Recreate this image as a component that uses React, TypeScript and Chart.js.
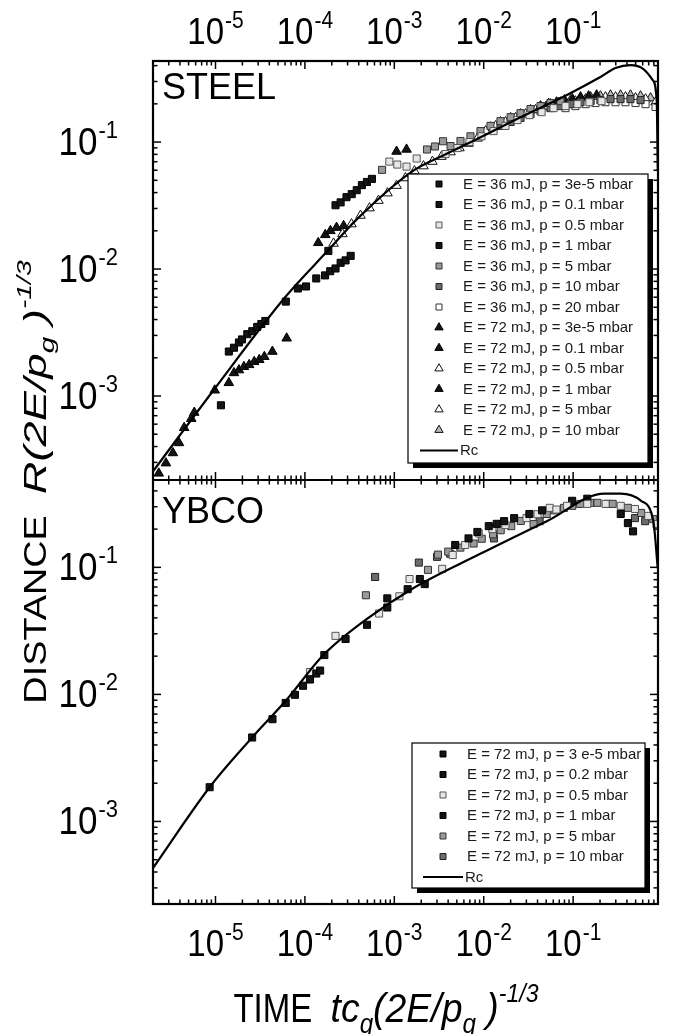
import React, { useEffect, useRef } from 'react';
import { Chart, registerables } from 'chart.js';

Chart.register(...registerables);

const FONT = "'Liberation Sans', Arial, Helvetica, sans-serif";

// ---- axis ranges & tick labels ----
const X_MIN = 2.0e-6;
const X_MAX = 0.89;
const STEEL_Y_MIN = 2.18e-4;
const STEEL_Y_MAX = 0.435;
const YBCO_Y_MIN = 2.24e-4;
const YBCO_Y_MAX = 0.487;

const X_TICK_VALUES = [1e-5, 1e-4, 1e-3, 1e-2, 1e-1];
const X_TICK_EXPONENTS = ['-5', '-4', '-3', '-2', '-1'];
const Y_TICK_VALUES = [1e-3, 1e-2, 1e-1];
const Y_TICK_EXPONENTS = ['-3', '-2', '-1'];

// ---- STEEL panel data [t, R] ----
const STEEL_36_3E5: [number, number][] = [[1.15e-5, 8.45e-4], [1.41e-5, 2.24e-3], [1.61e-5, 2.40e-3], [1.83e-5, 2.64e-3], [1.98e-5, 2.79e-3], [2.27e-5, 3.07e-3], [2.58e-5, 3.24e-3], [2.93e-5, 3.50e-3], [3.26e-5, 3.69e-3], [3.61e-5, 3.90e-3]];
const STEEL_36_01: [number, number][] = [[6.12e-5, 5.54e-3], [8.35e-5, 7.03e-3], [1.03e-4, 7.29e-3], [1.34e-4, 8.43e-3], [1.68e-4, 8.91e-3], [1.92e-4, 9.61e-3], [2.20e-4, 0.0101], [2.51e-4, 0.0112], [2.85e-4, 0.0117], [3.25e-4, 0.0127]];
const STEEL_36_05: [number, number][] = [[8.8e-4, 0.0702], [1.08e-3, 0.0665], [1.37e-3, 0.0641], [1.78e-3, 0.0742], [3.74e-3, 0.0805], [5.09e-3, 0.0897], [6.93e-3, 0.1], [9.44e-3, 0.111], [0.0129, 0.122], [0.0175, 0.134], [0.0239, 0.149], [0.0325, 0.163], [0.0444, 0.172], [0.0604, 0.185], [0.0822, 0.192], [0.112, 0.199], [0.152, 0.206], [0.208, 0.210]];
const STEEL_36_1: [number, number][] = [[1.83e-4, 0.0139], [2.20e-4, 0.0318], [2.51e-4, 0.0335], [2.92e-4, 0.0368], [3.34e-4, 0.0389], [3.80e-4, 0.0418], [4.34e-4, 0.0458], [4.94e-4, 0.0485], [5.62e-4, 0.0513]];
const STEEL_36_5: [number, number][] = [[7.3e-4, 0.0604], [2.32e-3, 0.0874], [2.85e-3, 0.0923], [3.51e-3, 0.1015], [4.26e-3, 0.093], [5.50e-3, 0.102], [7.11e-3, 0.111], [9.2e-3, 0.122], [0.0119, 0.134], [0.0154, 0.146], [0.0200, 0.157], [0.0258, 0.169], [0.0334, 0.182], [0.0432, 0.192], [0.0558, 0.203], [0.0723, 0.210]];
const STEEL_36_10: [number, number][] = [[0.0154, 0.134], [0.0200, 0.144], [0.0258, 0.155], [0.0334, 0.166], [0.0432, 0.175], [0.0558, 0.185], [0.0723, 0.192], [0.0935, 0.199], [0.121, 0.206], [0.157, 0.210], [0.202, 0.214], [0.262, 0.218], [0.339, 0.218], [0.438, 0.218], [0.568, 0.214]];
const STEEL_36_20: [number, number][] = [[0.0822, 0.185], [0.106, 0.192], [0.138, 0.199], [0.178, 0.203], [0.230, 0.206], [0.298, 0.206], [0.385, 0.206], [0.499, 0.203], [0.646, 0.199], [0.836, 0.189]];
const STEEL_72_3E5: [number, number][] = [[2.32e-6, 2.46e-4], [2.79e-6, 2.96e-4], [3.34e-6, 3.56e-4], [3.91e-6, 4.27e-4], [4.46e-6, 5.62e-4], [5.36e-6, 6.63e-4], [5.79e-6, 7.41e-4], [9.8e-6, 1.11e-3], [1.41e-5, 1.27e-3]];
const STEEL_72_01: [number, number][] = [[1.61e-5, 1.52e-3], [1.83e-5, 1.60e-3], [2.08e-5, 1.70e-3], [2.38e-5, 1.76e-3], [2.71e-5, 1.86e-3], [3.09e-5, 1.93e-3], [3.52e-5, 2.04e-3], [4.33e-5, 2.24e-3], [6.25e-5, 2.85e-3]];
const STEEL_72_05: [number, number][] = [[2.09e-4, 0.0159], [2.63e-4, 0.0189], [3.32e-4, 0.0226], [4.19e-4, 0.0264], [5.28e-4, 0.0302], [6.65e-4, 0.0346], [8.39e-4, 0.0396], [1.06e-3, 0.0454], [1.33e-3, 0.0521], [1.68e-3, 0.0591], [2.12e-3, 0.0647], [2.67e-3, 0.0702], [3.37e-3, 0.0768], [4.26e-3, 0.0834], [5.36e-3, 0.0897], [6.76e-3, 0.0973], [8.53e-3, 0.107]];
const STEEL_72_1: [number, number][] = [[1.41e-4, 0.0161], [1.69e-4, 0.0186], [1.93e-4, 0.0200], [2.26e-4, 0.0212], [2.71e-4, 0.0219], [1.06e-3, 0.0843], [1.37e-3, 0.0875], [0.0432, 0.192], [0.0531, 0.201], [0.0652, 0.206], [0.0802, 0.214], [0.0984, 0.218], [0.121, 0.226], [0.149, 0.230], [0.183, 0.234]];
const STEEL_72_5: [number, number][] = [[0.0105, 0.122], [0.0136, 0.134], [0.0175, 0.144], [0.0227, 0.155], [0.0294, 0.166], [0.0380, 0.179], [0.0491, 0.189], [0.0635, 0.195], [0.0822, 0.203], [0.106, 0.210], [0.138, 0.218], [0.178, 0.222], [0.230, 0.226], [0.298, 0.226], [0.385, 0.226], [0.499, 0.222], [0.646, 0.218], [0.836, 0.206]];
const STEEL_72_10: [number, number][] = [[0.0119, 0.131], [0.0154, 0.144], [0.0200, 0.155], [0.0258, 0.166], [0.0334, 0.179], [0.0432, 0.189], [0.0558, 0.199], [0.0723, 0.206], [0.0935, 0.214], [0.121, 0.222], [0.157, 0.226], [0.202, 0.230], [0.262, 0.234], [0.339, 0.234], [0.438, 0.234], [0.568, 0.230], [0.735, 0.222]];
const STEEL_RC: [number, number][] = [[2.0e-6, 2.55e-4], [9.5e-6, 1.11e-3], [6.1e-5, 6.07e-3], [1.83e-4, 0.0141], [3.8e-4, 0.0246], [1.56e-3, 0.0583], [3.71e-3, 0.0798], [8.75e-3, 0.107], [0.0258, 0.157], [0.0843, 0.234], [0.202, 0.325], [0.298, 0.383], [0.438, 0.404], [0.612, 0.376], [0.777, 0.308], [0.861, 0.210], [0.885, 0.060]];

// ---- YBCO panel data [t, R] ----
const YBCO_72_3E5: [number, number][] = [[8.6e-6, 1.86e-3], [2.57e-5, 4.58e-3], [4.34e-5, 6.38e-3], [6.1e-5, 8.57e-3], [7.73e-5, 9.93e-3], [9.53e-5, 0.0117], [1.14e-4, 0.0131], [1.34e-4, 0.0146], [1.48e-4, 0.0154]];
const YBCO_72_02: [number, number][] = [[1.65e-4, 0.0204], [2.85e-4, 0.0273], [4.95e-4, 0.0353], [8.35e-4, 0.0483], [8.35e-4, 0.0570], [1.41e-3, 0.0673], [1.93e-3, 0.0809], [2.19e-3, 0.0738], [4.8e-3, 0.150], [6.76e-3, 0.169], [8.5e-3, 0.190], [0.0114, 0.211], [0.0140, 0.220], [0.0169, 0.231], [0.0219, 0.244], [0.0324, 0.263], [0.045, 0.281]];
const YBCO_72_05: [number, number][] = [[1.14e-4, 0.0150], [2.2e-4, 0.0289], [6.76e-4, 0.0433], [1.14e-3, 0.0592], [1.48e-3, 0.0809], [3.43e-3, 0.0973], [4.5e-3, 0.125], [6.2e-3, 0.150], [8.79e-3, 0.185], [0.0125, 0.200], [0.0175, 0.215], [0.0301, 0.244], [0.040, 0.262], [0.0547, 0.294], [0.065, 0.285], [0.0855, 0.305], [0.144, 0.316], [0.231, 0.316], [0.341, 0.305], [0.492, 0.288], [0.693, 0.254], [0.855, 0.219]];
const YBCO_72_1: [number, number][] = [[0.0975, 0.334], [0.144, 0.347], [0.341, 0.263], [0.410, 0.223], [0.468, 0.192]];
const YBCO_72_5: [number, number][] = [[4.81e-4, 0.0603], [2.38e-3, 0.0955], [3.08e-3, 0.126], [4.01e-3, 0.133], [5.48e-3, 0.143], [7.71e-3, 0.154], [9.5e-3, 0.168], [0.0127, 0.182], [0.0155, 0.196], [0.0203, 0.211], [0.026, 0.232], [0.0361, 0.219], [0.0507, 0.263], [0.062, 0.281], [0.0791, 0.294], [0.098, 0.305], [0.120, 0.316], [0.155, 0.322], [0.187, 0.322], [0.277, 0.316], [0.410, 0.294], [0.576, 0.268], [0.789, 0.240]];
const YBCO_72_10: [number, number][] = [[6.1e-4, 0.0840], [1.88e-3, 0.109], [3.01e-3, 0.121], [4.22e-3, 0.128], [0.0130, 0.169], [0.0422, 0.231], [0.243, 0.316], [0.492, 0.244], [0.640, 0.231]];
const YBCO_RC: [number, number][] = [[2.0e-6, 4.3e-4], [8.6e-6, 1.86e-3], [2.57e-5, 4.58e-3], [6.1e-5, 8.9e-3], [1.61e-4, 0.0204], [4.81e-4, 0.0387], [1.56e-3, 0.0673], [8.79e-3, 0.126], [0.0508, 0.231], [0.225, 0.380], [0.341, 0.380], [0.576, 0.334], [0.789, 0.231], [0.885, 0.098]];

// ---- marker styles ----
type Sym = { shape: 'sq' | 'tri'; fill: string; stroke: string };
const SYMS: Record<string, Sym> = {
  blackSq: { shape: 'sq', fill: '#141414', stroke: '#000' },
  lightSq: { shape: 'sq', fill: '#e6e6e6', stroke: '#555' },
  graySq: { shape: 'sq', fill: '#9a9a9a', stroke: '#333' },
  dgraySq: { shape: 'sq', fill: '#6c6c6c', stroke: '#222' },
  openSq: { shape: 'sq', fill: '#ffffff', stroke: '#333' },
  blackTri: { shape: 'tri', fill: '#141414', stroke: '#000' },
  openTri: { shape: 'tri', fill: '#ffffff', stroke: '#111' },
  grayTri: { shape: 'tri', fill: '#b8b8b8', stroke: '#111' },
};

type Series = { label: string; data: [number, number][]; sym: string };

const STEEL_SERIES: Series[] = [
  { label: 'E = 36 mJ, p = 3e-5 mbar', data: STEEL_36_3E5, sym: 'blackSq' },
  { label: 'E = 36 mJ, p = 0.1 mbar', data: STEEL_36_01, sym: 'blackSq' },
  { label: 'E = 36 mJ, p = 0.5 mbar', data: STEEL_36_05, sym: 'lightSq' },
  { label: 'E = 36 mJ, p = 1 mbar', data: STEEL_36_1, sym: 'blackSq' },
  { label: 'E = 36 mJ, p = 5 mbar', data: STEEL_36_5, sym: 'graySq' },
  { label: 'E = 36 mJ, p = 10 mbar', data: STEEL_36_10, sym: 'dgraySq' },
  { label: 'E = 36 mJ, p = 20 mbar', data: STEEL_36_20, sym: 'openSq' },
  { label: 'E = 72 mJ, p = 3e-5 mbar', data: STEEL_72_3E5, sym: 'blackTri' },
  { label: 'E = 72 mJ, p = 0.1 mbar', data: STEEL_72_01, sym: 'blackTri' },
  { label: 'E = 72 mJ, p = 0.5 mbar', data: STEEL_72_05, sym: 'openTri' },
  { label: 'E = 72 mJ, p = 1 mbar', data: STEEL_72_1, sym: 'blackTri' },
  { label: 'E = 72 mJ, p = 5 mbar', data: STEEL_72_5, sym: 'openTri' },
  { label: 'E = 72 mJ, p = 10 mbar', data: STEEL_72_10, sym: 'grayTri' },
];

const YBCO_SERIES: Series[] = [
  { label: 'E = 72 mJ, p = 3 e-5 mbar', data: YBCO_72_3E5, sym: 'blackSq' },
  { label: 'E = 72 mJ, p = 0.2 mbar', data: YBCO_72_02, sym: 'blackSq' },
  { label: 'E = 72 mJ, p = 0.5 mbar', data: YBCO_72_05, sym: 'lightSq' },
  { label: 'E = 72 mJ, p = 1 mbar', data: YBCO_72_1, sym: 'blackSq' },
  { label: 'E = 72 mJ, p = 5 mbar', data: YBCO_72_5, sym: 'graySq' },
  { label: 'E = 72 mJ, p = 10 mbar', data: YBCO_72_10, sym: 'dgraySq' },
];

function makeDataset(s: Series, yAxisID: string) {
  const st = SYMS[s.sym];
  return {
    label: s.label,
    data: s.data.map(([x, y]) => ({ x, y })),
    yAxisID,
    showLine: false,
    pointStyle: st.shape === 'sq' ? 'rect' : 'triangle',
    pointRadius: st.shape === 'sq' ? 5 : 5.5,
    backgroundColor: st.fill,
    borderColor: st.stroke,
    borderWidth: 1,
  };
}

function makeRc(data: [number, number][], yAxisID: string) {
  return {
    label: 'Rc',
    data: data.map(([x, y]) => ({ x, y })),
    yAxisID,
    showLine: true,
    pointRadius: 0,
    borderColor: '#000',
    borderWidth: 2.2,
    cubicInterpolationMode: 'monotone',
    fill: false,
  };
}

function logTicks(min: number, max: number) {
  const out: { v: number; major: boolean }[] = [];
  const e0 = Math.floor(Math.log10(min));
  const e1 = Math.ceil(Math.log10(max));
  for (let e = e0; e <= e1; e++) {
    for (let m = 1; m <= 9; m++) {
      const v = m * Math.pow(10, e);
      if (v >= min * 0.999 && v <= max * 1.001) out.push({ v, major: m === 1 });
    }
  }
  return out;
}

function drawPow(ctx: CanvasRenderingContext2D, x: number, y: number, exp: string, align: string, size: number, expSize: number, vScale: number) {
  ctx.font = `${size}px ${FONT}`;
  const wb = ctx.measureText('10').width;
  ctx.font = `${expSize}px ${FONT}`;
  const we = ctx.measureText(exp).width;
  const total = wb + we + 1;
  const x0 = align === 'center' ? x - total / 2 : align === 'right' ? x - total : x;
  ctx.save();
  ctx.translate(0, y);
  ctx.scale(1, vScale);
  ctx.textAlign = 'left';
  ctx.textBaseline = 'alphabetic';
  ctx.font = `${size}px ${FONT}`;
  ctx.fillText('10', x0, 0);
  ctx.font = `${expSize}px ${FONT}`;
  ctx.fillText(exp, x0 + wb + 1, -size * 0.45);
  ctx.restore();
}

type Part = { text: string; size: number; italic?: boolean; dy?: number; sx?: number };
function drawRich(ctx: CanvasRenderingContext2D, parts: Part[], cx: number, y: number) {
  const fontOf = (p: Part) => `${p.italic ? 'italic ' : ''}${p.size}px ${FONT}`;
  let total = 0;
  const widths = parts.map((p) => {
    ctx.font = fontOf(p);
    const w = ctx.measureText(p.text).width * (p.sx || 1);
    total += w;
    return w;
  });
  let x = cx - total / 2;
  ctx.textAlign = 'left';
  ctx.textBaseline = 'alphabetic';
  parts.forEach((p, i) => {
    ctx.font = fontOf(p);
    ctx.save();
    ctx.translate(x, y + (p.dy || 0));
    ctx.scale(p.sx || 1, 1);
    ctx.fillText(p.text, 0, 0);
    ctx.restore();
    x += widths[i];
  });
}

function drawSymbol(ctx: CanvasRenderingContext2D, sym: Sym, x: number, y: number) {
  ctx.fillStyle = sym.fill;
  ctx.strokeStyle = sym.stroke;
  ctx.lineWidth = 1;
  ctx.beginPath();
  if (sym.shape === 'sq') {
    ctx.rect(x - 3, y - 3, 6, 6);
  } else {
    const r = 4.8;
    ctx.moveTo(x, y - r);
    ctx.lineTo(x - r * 0.866, y + r * 0.5);
    ctx.lineTo(x + r * 0.866, y + r * 0.5);
    ctx.closePath();
  }
  ctx.fill();
  ctx.stroke();
}

type LegendBox = { x: number; y: number; w: number; h: number; row0: number; step: number; symX: number; textX: number; lineX0: number; lineX1: number };
function drawLegend(ctx: CanvasRenderingContext2D, series: Series[], b: LegendBox) {
  ctx.fillStyle = '#000';
  ctx.fillRect(b.x + 5, b.y + 5, b.w, b.h);
  ctx.fillStyle = '#fff';
  ctx.fillRect(b.x, b.y, b.w, b.h);
  ctx.strokeStyle = '#000';
  ctx.lineWidth = 1.2;
  ctx.strokeRect(b.x, b.y, b.w, b.h);
  ctx.textBaseline = 'middle';
  ctx.textAlign = 'left';
  series.forEach((s, i) => {
    const y = b.row0 + i * b.step;
    drawSymbol(ctx, SYMS[s.sym], b.symX, y);
    ctx.fillStyle = '#1a1a1a';
    ctx.font = `15px ${FONT}`;
    ctx.textBaseline = 'middle';
    ctx.fillText(s.label, b.textX, y + 0.5);
  });
  const yr = b.row0 + series.length * b.step;
  ctx.strokeStyle = '#000';
  ctx.lineWidth = 2;
  ctx.beginPath();
  ctx.moveTo(b.lineX0, yr);
  ctx.lineTo(b.lineX1, yr);
  ctx.stroke();
  ctx.fillStyle = '#1a1a1a';
  ctx.fillText('Rc', b.lineX1 + 2, yr + 0.5);
}

const framePlugin = {
  id: 'framePlugin',
  afterDraw(chart: any) {
    const ctx: CanvasRenderingContext2D = chart.ctx;
    const { left, right, top, bottom } = chart.chartArea;
    const xs = chart.scales.x;
    const yt = chart.scales.yTop;
    const yb = chart.scales.yBot;
    const mid = yt.bottom;
    ctx.save();

    // legends (drawn over data)
    drawLegend(ctx, STEEL_SERIES, { x: 408, y: 174, w: 240, h: 289, row0: 184, step: 20.5, symX: 439, textX: 463, lineX0: 420, lineX1: 458 });
    drawLegend(ctx, YBCO_SERIES, { x: 412, y: 743, w: 233, h: 145, row0: 754, step: 20.5, symX: 443, textX: 467, lineX0: 423, lineX1: 463 });

    // ticks
    ctx.strokeStyle = '#000';
    ctx.lineWidth = 1.5;
    const seg = (x0: number, y0: number, x1: number, y1: number) => {
      ctx.beginPath();
      ctx.moveTo(x0, y0);
      ctx.lineTo(x1, y1);
      ctx.stroke();
    };
    for (const t of logTicks(X_MIN, X_MAX)) {
      const px = xs.getPixelForValue(t.v);
      const L = t.major ? 8 : 4.5;
      seg(px, top, px, top + L);
      seg(px, mid - L, px, mid + L);
      seg(px, bottom, px, bottom - L);
    }
    for (const sc of [yt, yb]) {
      for (const t of logTicks(sc.min, sc.max)) {
        const py = sc.getPixelForValue(t.v);
        const L = t.major ? 8 : 4.5;
        seg(left, py, left + L, py);
        seg(right, py, right - L, py);
      }
    }

    // frame
    ctx.lineWidth = 2.2;
    ctx.strokeRect(left, top, right - left, bottom - top);
    seg(left, mid, right, mid);

    // tick labels
    ctx.fillStyle = '#000';
    X_TICK_VALUES.forEach((v, i) => {
      const px = xs.getPixelForValue(v);
      drawPow(ctx, px, 44, X_TICK_EXPONENTS[i], 'center', 33, 21, 1.1);
      drawPow(ctx, px, 956, X_TICK_EXPONENTS[i], 'center', 33, 21, 1.1);
    });
    for (const sc of [yt, yb]) {
      Y_TICK_VALUES.forEach((v, i) => {
        const py = sc.getPixelForValue(v);
        drawPow(ctx, 118, py + 13, Y_TICK_EXPONENTS[i], 'right', 35, 22, 1.1);
      });
    }

    // panel names
    ctx.fillStyle = '#000';
    ctx.font = `36px ${FONT}`;
    ctx.textAlign = 'left';
    ctx.textBaseline = 'alphabetic';
    ctx.fillText('STEEL', 162, 99);
    ctx.fillText('YBCO', 162, 523);

    // x title (slightly tall glyphs as in the scan)
    ctx.save();
    ctx.translate(0, 1022);
    ctx.scale(1, 1.22);
    drawRich(ctx, [
      { text: 'TIME', size: 33 },
      { text: '  ', size: 33 },
      { text: 'tc', size: 34, italic: true, sx: 1.1 },
      { text: 'g', size: 22, italic: true, dy: 9, sx: 1.1 },
      { text: '(2E/p', size: 34, italic: true, sx: 1.1 },
      { text: 'g', size: 22, italic: true, dy: 9, sx: 1.1 },
      { text: ' )', size: 34, italic: true, sx: 1.1 },
      { text: '-1/3', size: 21, italic: true, dy: -16, sx: 1.1 },
    ], 386, 0);
    ctx.restore();

    // y title
    ctx.save();
    ctx.translate(46, 482);
    ctx.rotate(-Math.PI / 2);
    ctx.scale(1.22, 1);
    drawRich(ctx, [
      { text: 'DISTANCE', size: 31 },
      { text: '  ', size: 31 },
      { text: 'R(2E/p', size: 32, italic: true, sx: 1.16 },
      { text: 'g', size: 21, italic: true, dy: 8, sx: 1.16 },
      { text: ' )', size: 32, italic: true, sx: 1.16 },
      { text: '-1/3', size: 20, italic: true, dy: -15, sx: 1.16 },
    ], 0, 0);
    ctx.restore();

    ctx.restore();
  },
};

export default function App() {
  const ref = useRef<HTMLCanvasElement | null>(null);
  useEffect(() => {
    if (!ref.current) return;
    const datasets: any[] = [
      makeRc(STEEL_RC, 'yTop'),
      makeRc(YBCO_RC, 'yBot'),
      ...STEEL_SERIES.map((s) => makeDataset(s, 'yTop')),
      ...YBCO_SERIES.map((s) => makeDataset(s, 'yBot')),
    ];
    const hidden = { ticks: { display: false }, grid: { display: false }, border: { display: false } };
    const chart = new Chart(ref.current, {
      type: 'scatter',
      data: { datasets },
      options: {
        responsive: false,
        animation: false,
        devicePixelRatio: 1,
        layout: { padding: { top: 61, right: 16, left: 0, bottom: 0 } },
        plugins: { legend: { display: false }, tooltip: { enabled: false } },
        scales: {
          x: { type: 'logarithmic', position: 'bottom', min: X_MIN, max: X_MAX, bounds: 'data', ...hidden, afterFit: (s: any) => { s.height = 130; } },
          yTop: { type: 'logarithmic', position: 'left', stack: 'panels', stackWeight: 419, weight: 1, min: STEEL_Y_MIN, max: STEEL_Y_MAX, bounds: 'data', ...hidden, afterFit: (s: any) => { s.width = 153; } },
          yBot: { type: 'logarithmic', position: 'left', stack: 'panels', stackWeight: 424, weight: 0, min: YBCO_Y_MIN, max: YBCO_Y_MAX, bounds: 'data', ...hidden, afterFit: (s: any) => { s.width = 153; } },
        },
      } as any,
      plugins: [framePlugin],
    });
    return () => chart.destroy();
  }, []);
  return (
    <div style={{ position: 'absolute', left: 0, top: 0, width: 674, height: 1034, background: '#fff' }}>
      <canvas ref={ref} width={674} height={1034} style={{ display: 'block', width: 674, height: 1034 }} />
    </div>
  );
}
